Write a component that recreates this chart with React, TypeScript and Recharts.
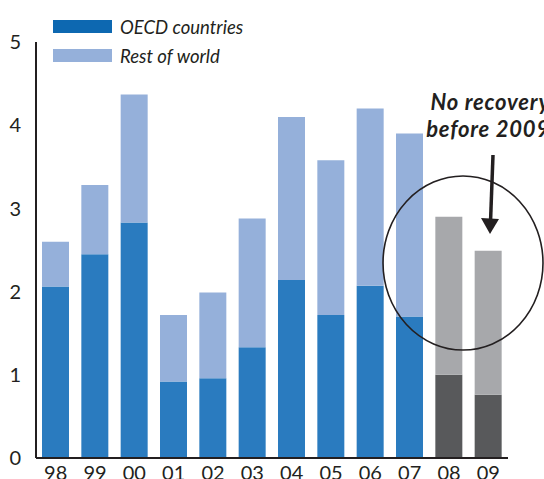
import { Bar, BarChart, Cell, Legend, XAxis, YAxis } from "recharts";

const YEARS = ["98", "99", "00", "01", "02", "03", "04", "05", "06", "07", "08", "09"];
const OECD = [2.06, 2.45, 2.83, 0.92, 0.96, 1.33, 2.14, 1.72, 2.07, 1.7, 1.0, 0.76];
const REST = [0.54, 0.83, 1.54, 0.8, 1.03, 1.55, 1.96, 1.86, 2.13, 2.2, 1.9, 1.73];
const FORECAST = ["08", "09"];
const Y_TICKS = [0, 1, 2, 3, 4, 5];
const SERIES_NAMES = ["OECD countries", "Rest of world"];
const NOTE = ["No recovery", "before 2009"];

const BLUE = "#2a7bbf";
const BLUE_KEY = "#0d68b1";
const LIGHT = "#95b0da";
const DARK_GREY = "#58595b";
const LIGHT_GREY = "#a7a8ab";
const INK = "#231f20";
const FONT = "Lato, 'Open Sans', sans-serif";

const data = YEARS.map((year, i) => ({ year, oecd: OECD[i], rest: REST[i] }));

function LegendBox() {
  const colors = [BLUE_KEY, LIGHT];
  return (
    <div style={{ position: "absolute", left: 53, top: 12 }}>
      {SERIES_NAMES.map((name, i) => (
        <div key={name} style={{ display: "flex", alignItems: "center", height: 29 }}>
          <div style={{ width: 59, height: 13, background: colors[i] }} />
          <span
            style={{
              marginLeft: 8,
              fontFamily: FONT,
              fontStyle: "italic",
              fontSize: 18.5,
              color: INK,
            }}
          >
            {name}
          </span>
        </div>
      ))}
    </div>
  );
}

export default function App() {
  return (
    <div style={{ position: "absolute", left: 0, top: 0, width: 544, height: 479, overflow: "hidden", background: "#fff" }}>
      <BarChart
        width={544}
        height={479}
        data={data}
        margin={{ top: 42, right: 36, left: 0, bottom: 0 }}
        barSize={27}
      >
        <XAxis
          dataKey="year"
          tickLine={false}
          axisLine={{ stroke: INK, strokeWidth: 2 }}
          tick={{ fill: INK, fontSize: 20, fontFamily: FONT }}
          tickMargin={2}
          height={21}
          interval={0}
        />
        <YAxis
          domain={[0, 5]}
          ticks={Y_TICKS}
          tickLine={false}
          axisLine={{ stroke: INK, strokeWidth: 2 }}
          tick={{ fill: INK, fontSize: 20, fontFamily: FONT }}
          tickMargin={9}
          width={36}
        />
        <Legend content={() => <LegendBox />} wrapperStyle={{ top: 0, left: 0 }} />
        <Bar dataKey="oecd" stackId="a" fill={BLUE} isAnimationActive={false}>
          {data.map((d) => (
            <Cell key={d.year} fill={FORECAST.includes(d.year) ? DARK_GREY : BLUE} />
          ))}
        </Bar>
        <Bar dataKey="rest" stackId="a" fill={LIGHT} isAnimationActive={false}>
          {data.map((d) => (
            <Cell key={d.year} fill={FORECAST.includes(d.year) ? LIGHT_GREY : LIGHT} />
          ))}
        </Bar>
      </BarChart>
      <svg width={544} height={479} style={{ position: "absolute", left: 0, top: 0, pointerEvents: "none" }}>
        <ellipse cx={463} cy={263} rx={80} ry={87} fill="none" stroke={INK} strokeWidth={1.6} />
        <line x1={493} y1={155} x2={490.5} y2={222} stroke={INK} strokeWidth={3.5} />
        <path d="M481,218 L490,234 L499,219 Z" fill={INK} />
        <text
          textAnchor="end"
          fontFamily={FONT}
          fontStyle="italic"
          fontWeight={700}
          fontSize={22}
          letterSpacing={0.8}
          fill={INK}
        >
          <tspan x={550} y={110}>{NOTE[0]}</tspan>
          <tspan x={550} y={137}>{NOTE[1]}</tspan>
        </text>
      </svg>
    </div>
  );
}
